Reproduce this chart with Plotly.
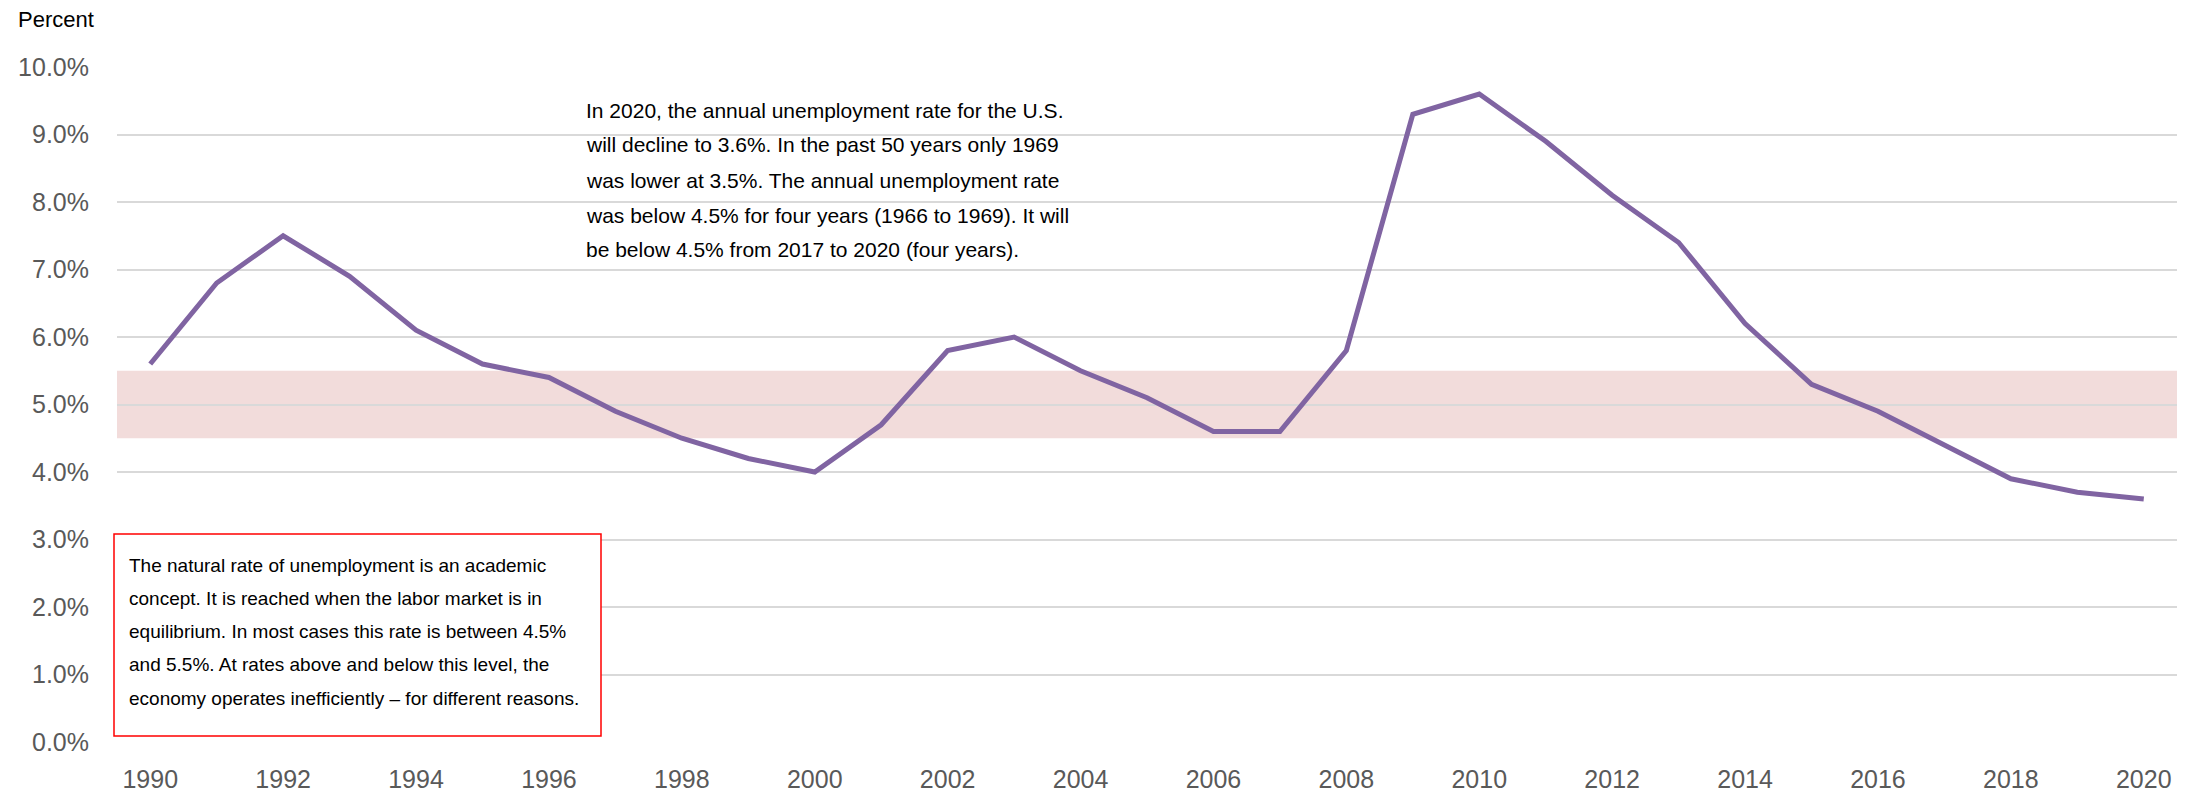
import plotly.graph_objects as go

# Annual U.S. unemployment rate, percent
years = list(range(1990, 2021))
rates = [5.6, 6.8, 7.5, 6.9, 6.1, 5.6, 5.4, 4.9, 4.5, 4.2, 4.0,
         4.7, 5.8, 6.0, 5.5, 5.1, 4.6, 4.6, 5.8, 9.3, 9.6,
         8.9, 8.1, 7.4, 6.2, 5.3, 4.9, 4.4, 3.9, 3.7, 3.6]

# Natural-rate band
band_low, band_high = 4.5, 5.5

y_ticks = [0, 1, 2, 3, 4, 5, 6, 7, 8, 9, 10]
y_tick_text = [f"{v:.1f}%" for v in y_ticks]
x_ticks = list(range(1990, 2021, 2))

note_lines = [
    "In 2020, the annual unemployment rate for the U.S.",
    "will decline to 3.6%. In the past 50 years only 1969",
    "was lower at 3.5%. The annual unemployment rate",
    "was below 4.5% for four years (1966 to 1969). It will",
    "be below 4.5% from 2017 to 2020 (four years).",
]
box_lines = [
    "The natural rate of unemployment is an academic",
    "concept. It is reached when the labor market is in",
    "equilibrium. In most cases this rate is between 4.5%",
    "and 5.5%. At rates above and below this level, the",
    "economy operates inefficiently \u2013 for different reasons.",
]

FONT = "Liberation Sans, Arial, sans-serif"
W, H = 2195, 796
L, R, T, B = 117, 18, 67, 54
PW, PH = W - L - R, H - T - B


def px_x(p):
    return (p - L) / PW


def px_y(p):
    return 1 - (p - T) / PH


fig = go.Figure()
fig.add_trace(go.Scatter(
    x=years, y=rates, mode="lines",
    line=dict(color="#8064A2", width=5),
    hoverinfo="x+y", showlegend=False,
))

shapes = [
    dict(type="rect", xref="paper", yref="y", x0=0, x1=1,
         y0=band_low, y1=band_high, fillcolor="#F2DCDB",
         line=dict(width=0), layer="below"),
    dict(type="rect", xref="paper", yref="paper",
         x0=px_x(114), x1=px_x(601), y0=px_y(736), y1=px_y(534),
         fillcolor="white", line=dict(color="#FF0000", width=1.5),
         layer="above"),
]

annotations = [
    dict(text="Percent", xref="paper", yref="paper", x=px_x(16), y=px_y(20),
         xanchor="left", yanchor="middle", showarrow=False,
         font=dict(family=FONT, size=22, color="#000000")),
]
for i, line in enumerate(note_lines):
    annotations.append(dict(
        text=line, xref="paper", yref="paper",
        x=px_x(584), y=px_y(110 + 35 * i), xanchor="left", yanchor="middle",
        showarrow=False, font=dict(family=FONT, size=21, color="#000000")))
for i, line in enumerate(box_lines):
    annotations.append(dict(
        text=line, xref="paper", yref="paper",
        x=px_x(127), y=px_y(565 + 33.3 * i), xanchor="left", yanchor="middle",
        showarrow=False, font=dict(family=FONT, size=19, color="#000000")))

fig.update_layout(
    width=W, height=H,
    margin=dict(l=L, r=R, t=T, b=B, autoexpand=False),
    paper_bgcolor="white", plot_bgcolor="white",
    shapes=shapes, annotations=annotations,
    xaxis=dict(
        range=[1989.5, 2020.5], tickmode="array", tickvals=x_ticks,
        showgrid=False, zeroline=False, showline=False, ticks="",
        ticklabelstandoff=20, automargin=False,
        tickfont=dict(family=FONT, size=25, color="#595959"),
    ),
    yaxis=dict(
        range=[0, 10], tickmode="array", tickvals=y_ticks, ticktext=y_tick_text,
        showgrid=True, gridcolor="#D9D9D9", gridwidth=2,
        zeroline=False, showline=False, ticks="",
        ticklabelstandoff=27, automargin=False,
        tickfont=dict(family=FONT, size=25, color="#595959"),
    ),
)

fig.write_html("out.html")
